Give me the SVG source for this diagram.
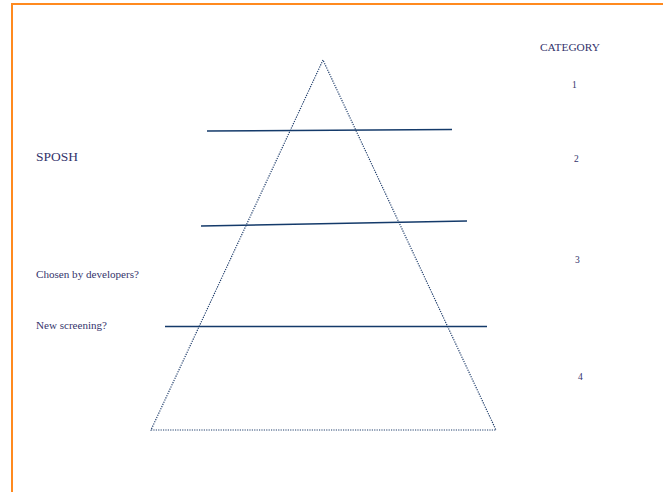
<svg xmlns="http://www.w3.org/2000/svg" width="663" height="492" viewBox="0 0 663 492">
<style>
text{font-family:"Liberation Serif","DejaVu Serif",serif;fill:#33336b}
.lvl{stroke:#143a6a;stroke-width:1.5;fill:none}
.tri{stroke:#1f3d6b;stroke-width:1.2;fill:none;stroke-dasharray:1.2 1.2}
</style>
<rect x="0" y="0" width="663" height="492" fill="#ffffff"/>
<path d="M12 492 V4 H663" fill="none" stroke="#ff8a1f" stroke-width="2"/>
<g id="pyramid">
<polygon class="tri" points="323,60 151,430 496,430"/>
</g>
<g id="connectors">
<line class="lvl" x1="207" y1="131" x2="452" y2="129.5"/>
<line class="lvl" x1="201" y1="226" x2="467" y2="221"/>
<line class="lvl" x1="165" y1="326.5" x2="487" y2="326.5" stroke-width="2"/>
</g>
<g id="labels">
<text x="540" y="51" font-size="10.5" textLength="60" lengthAdjust="spacingAndGlyphs">CATEGORY</text>
<text x="572" y="88" font-size="9.5">1</text>
<text x="574" y="162" font-size="9.5">2</text>
<text x="575" y="263" font-size="9.5">3</text>
<text x="578" y="380" font-size="9.5">4</text>
<text x="36" y="161" font-size="12.5" textLength="42" lengthAdjust="spacingAndGlyphs">SPOSH</text>
<text x="36" y="278" font-size="9.5" textLength="103" lengthAdjust="spacingAndGlyphs">Chosen by developers?</text>
<text x="36" y="329" font-size="9.5" textLength="71" lengthAdjust="spacingAndGlyphs">New screening?</text>
</g>
</svg>
